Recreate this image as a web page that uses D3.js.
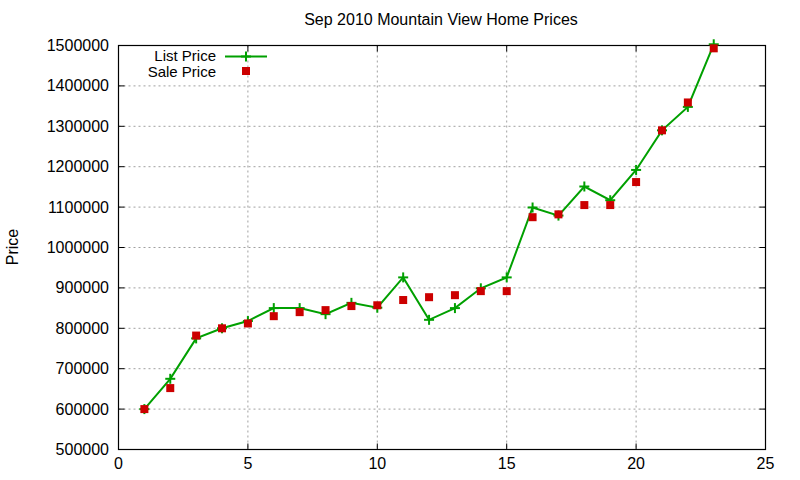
<!DOCTYPE html>
<html><head><meta charset="utf-8">
<script src="https://cdn.jsdelivr.net/npm/d3@7"></script>
<style>body{margin:0;background:#fff;} text{font-family:"Liberation Sans",Arial,sans-serif;}</style>
</head><body>
<svg id="c" width="800" height="480"></svg>
<script>
const months = [1,2,3,4,5,6,7,8,9,10,11,12,13,14,15,16,17,18,19,20,21,22,23];
const listPrice = [600000,675000,775000,800000,818000,850000,850000,835000,863000,851000,926000,821000,850000,899000,926000,1099000,1079000,1151000,1117000,1192000,1290000,1348000,1503000];
const salePrice = [600000,652000,782000,800000,812000,830000,840000,845000,855000,857000,870000,877000,882000,892000,892000,1075000,1082000,1105000,1105000,1162000,1290000,1359000,1493000];
const xTicks = [0,5,10,15,20,25];
const yTicks = [500000,600000,700000,800000,900000,1000000,1100000,1200000,1300000,1400000,1500000];
const title = "Sep 2010 Mountain View Home Prices";
const yLabel = "Price";
const legendLabels = ["List Price","Sale Price"];

const svg = d3.select("#c");
const L=118.5, R=765.5, T=45.5, B=449.5;
const x = d3.scaleLinear().domain([0,25]).range([L,R]);
const y = d3.scaleLinear().domain([500000,1500000]).range([B,T]);
const green="#00a000", red="#cc0000";

// grid
const g = svg.append("g");
xTicks.slice(1,-1).forEach(t=>{
  g.append("line").attr("x1",x(t)).attr("x2",x(t)).attr("y1",T).attr("y2",B)
   .attr("stroke","#a0a0a0").attr("stroke-dasharray","2,3");
});
yTicks.slice(1,-1).forEach(t=>{
  g.append("line").attr("x1",L).attr("x2",R).attr("y1",y(t)).attr("y2",y(t))
   .attr("stroke","#a0a0a0").attr("stroke-dasharray","2,3");
});

// ticks (inward, mirrored)
const tk = svg.append("g").attr("stroke","#000");
xTicks.forEach(t=>{
  tk.append("line").attr("x1",x(t)).attr("x2",x(t)).attr("y1",B).attr("y2",B-6);
  tk.append("line").attr("x1",x(t)).attr("x2",x(t)).attr("y1",T).attr("y2",T+6);
});
yTicks.forEach(t=>{
  tk.append("line").attr("x1",L).attr("x2",L+6).attr("y1",y(t)).attr("y2",y(t));
  tk.append("line").attr("x1",R).attr("x2",R-6).attr("y1",y(t)).attr("y2",y(t));
});

// frame
svg.append("rect").attr("x",L).attr("y",T).attr("width",R-L).attr("height",B-T)
  .attr("fill","none").attr("stroke","#000").attr("stroke-width",1.2);

// tick labels
xTicks.forEach(t=>{
  svg.append("text").attr("x",x(t)).attr("y",469).attr("text-anchor","middle")
    .attr("font-size",16).attr("fill","#000").text(t);
});
yTicks.forEach(t=>{
  svg.append("text").attr("x",109).attr("y",y(t)+5.5).attr("text-anchor","end")
    .attr("font-size",16).attr("fill","#000").text(t);
});

// title & y label
svg.append("text").attr("x",441).attr("y",25).attr("text-anchor","middle")
  .attr("font-size",16).attr("fill","#000").text(title);
svg.append("text").attr("transform","translate(18,247) rotate(-90)").attr("text-anchor","middle")
  .attr("font-size",16).attr("fill","#000").text(yLabel);

// line
const line = d3.line().x((d,i)=>x(months[i])).y(d=>y(d));
svg.append("path").datum(listPrice).attr("d",line).attr("fill","none")
  .attr("stroke",green).attr("stroke-width",2);
const cross = (sel,cx,cy)=>{
  sel.append("line").attr("x1",cx-5).attr("x2",cx+5).attr("y1",cy).attr("y2",cy).attr("stroke",green).attr("stroke-width",2);
  sel.append("line").attr("x1",cx).attr("x2",cx).attr("y1",cy-5).attr("y2",cy+5).attr("stroke",green).attr("stroke-width",2);
};
const cg = svg.append("g");
listPrice.forEach((v,i)=>cross(cg,x(months[i]),y(v)));

// squares
svg.append("g").selectAll("rect").data(salePrice).join("rect")
  .attr("x",(d,i)=>x(months[i])-4).attr("y",d=>y(d)-4).attr("width",8).attr("height",8)
  .attr("fill",red);

// legend
svg.append("text").attr("x",216).attr("y",61).attr("text-anchor","end")
  .attr("font-size",15).attr("fill","#000").text(legendLabels[0]);
svg.append("line").attr("x1",225).attr("x2",267).attr("y1",56.5).attr("y2",56.5)
  .attr("stroke",green).attr("stroke-width",2);
cross(svg,246,56.5);
svg.append("text").attr("x",216).attr("y",77).attr("text-anchor","end")
  .attr("font-size",15).attr("fill","#000").text(legendLabels[1]);
svg.append("rect").attr("x",242).attr("y",67).attr("width",8).attr("height",8).attr("fill",red);
</script>
</body></html>
